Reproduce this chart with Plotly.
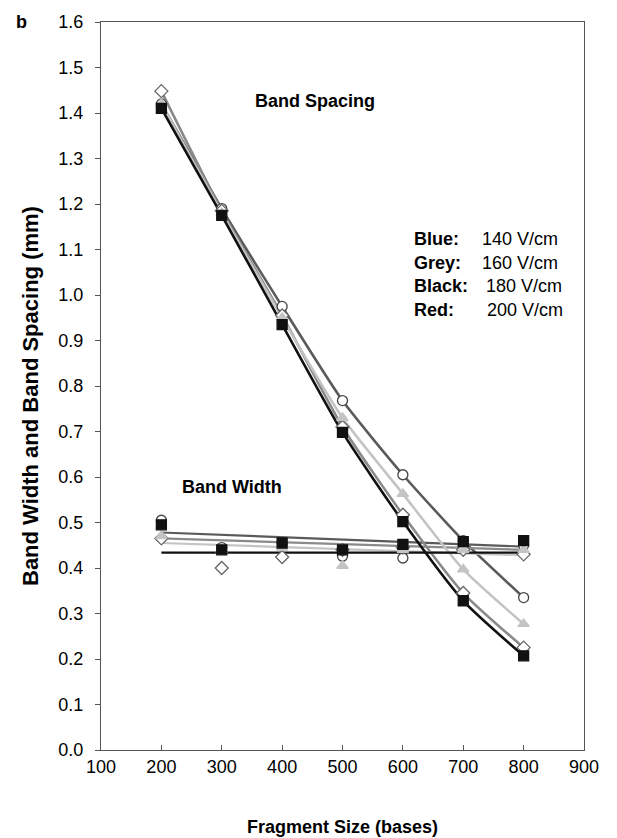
import plotly.graph_objects as go

sizes = [200, 300, 400, 500, 600, 700, 800]

# Band spacing (mm)
spacing_circle = [1.42, 1.19, 0.975, 0.768, 0.605, 0.46, 0.335]
spacing_diamond = [1.448, 1.185, 0.955, 0.71, 0.517, 0.345, 0.225]
spacing_triangle = [1.42, 1.18, 0.95, 0.73, 0.563, 0.397, 0.277]
spacing_square = [1.41, 1.175, 0.935, 0.698, 0.502, 0.328, 0.207]

# Band width (mm)
width_circle = [0.505, 0.445, 0.455, 0.426, 0.422, 0.45, 0.45]
width_diamond = [0.465, 0.40, 0.424, 0.44, 0.445, 0.44, 0.43]
width_triangle = [0.47, 0.44, 0.445, 0.405, 0.44, 0.44, 0.44]
width_square = [0.495, 0.44, 0.455, 0.44, 0.452, 0.458, 0.46]

# Band width trend lines (start at 200, end at 800)
trend_x = [200, 800]
trend_circle = [0.478, 0.447]
trend_diamond = [0.465, 0.44]
trend_triangle = [0.455, 0.428]
trend_square = [0.434, 0.434]

legend_labels = ["Blue:", "Grey:", "Black:", "Red:"]
legend_values = ["140 V/cm", "160 V/cm", "180 V/cm", "200 V/cm"]

series = [
    ("circle", spacing_circle, width_circle, trend_circle, "#5a5a5a", "circle", "white", "#444444"),
    ("diamond", spacing_diamond, width_diamond, trend_diamond, "#8a8a8a", "diamond", "white", "#666666"),
    ("triangle", spacing_triangle, width_triangle, trend_triangle, "#c4c4c4", "triangle-up", "#c4c4c4", "#c4c4c4"),
    ("square", spacing_square, width_square, trend_square, "#111111", "square", "#111111", "#111111"),
]

fig = go.Figure()

for name, sp, wd, tr, lc, sym, mfill, mline in series:
    fig.add_trace(go.Scatter(
        x=sizes, y=sp, mode="lines", line=dict(color=lc, width=2.6, shape="spline", smoothing=0.6),
        showlegend=False, hoverinfo="skip"))
    fig.add_trace(go.Scatter(
        x=trend_x, y=tr, mode="lines", line=dict(color=lc, width=2.2),
        showlegend=False, hoverinfo="skip"))

for name, sp, wd, tr, lc, sym, mfill, mline in series:
    for ys in (sp, wd):
        fig.add_trace(go.Scatter(
            x=sizes, y=ys, mode="markers",
            marker=dict(symbol=sym, size=10, color=mfill, line=dict(color=mline, width=1.3)),
            showlegend=False))

font_family = "Liberation Sans, Arial, sans-serif"
TXT = 18

annotations = [
    dict(x=0.0, y=1.0, xref="paper", yref="paper", xshift=-87, yshift=12,
         text="<b>b</b>", showarrow=False, font=dict(size=TXT, color="black"),
         xanchor="left", yanchor="top"),
    dict(x=454, y=1.426, text="<b>Band Spacing</b>", showarrow=False,
         font=dict(size=TXT, color="black"), xanchor="center"),
    dict(x=317, y=0.579, text="<b>Band Width</b>", showarrow=False,
         font=dict(size=TXT, color="black"), xanchor="center"),
    dict(x=0.5, y=0, xref="paper", yref="paper", yshift=-77,
         text="<b>Fragment Size (bases)</b>", showarrow=False,
         font=dict(size=TXT, color="black"), xanchor="center", yanchor="middle"),
    dict(x=0, y=0.5, xref="paper", yref="paper", xshift=-71, yshift=-10,
         text="<b>Band Width and Band Spacing (mm)</b>", textangle=-90, showarrow=False,
         font=dict(size=22, color="black"),
         xanchor="center", yanchor="middle"),
]

legend_y = [1.124, 1.070, 1.020, 0.967]
value_x = [727.5, 727.5, 734, 736]
for lab, val, yy, vx in zip(legend_labels, legend_values, legend_y, value_x):
    annotations.append(dict(x=615, y=yy, text="<b>" + lab + "</b>", showarrow=False,
                            font=dict(size=TXT, color="black"), xanchor="left"))
    annotations.append(dict(x=vx, y=yy, text=val, showarrow=False,
                            font=dict(size=TXT, color="black"), xanchor="left"))

fig.update_layout(
    width=617, height=838,
    margin=dict(l=101, r=33, t=17, b=88),
    paper_bgcolor="white", plot_bgcolor="white",
    font=dict(family=font_family, size=TXT, color="black"),
    annotations=annotations,
    xaxis=dict(range=[100, 900], tickvals=[100, 200, 300, 400, 500, 600, 700, 800, 900],
               showgrid=False, zeroline=False, showline=True, linecolor="#555555", linewidth=1,
               mirror=True, ticks="inside", ticklen=5, tickcolor="#555555",
               tickfont=dict(size=TXT)),
    yaxis=dict(range=[0, 1.6], tickvals=[i / 10 for i in range(17)],
               ticktext=["%.1f" % (i / 10) for i in range(17)],
               showgrid=False, zeroline=False, showline=True, linecolor="#555555", linewidth=1,
               mirror=True, ticks="outside", ticklen=5, tickcolor="#555555",
               ticklabelstandoff=8, tickfont=dict(size=TXT)),
)

fig.write_html("out.html")
